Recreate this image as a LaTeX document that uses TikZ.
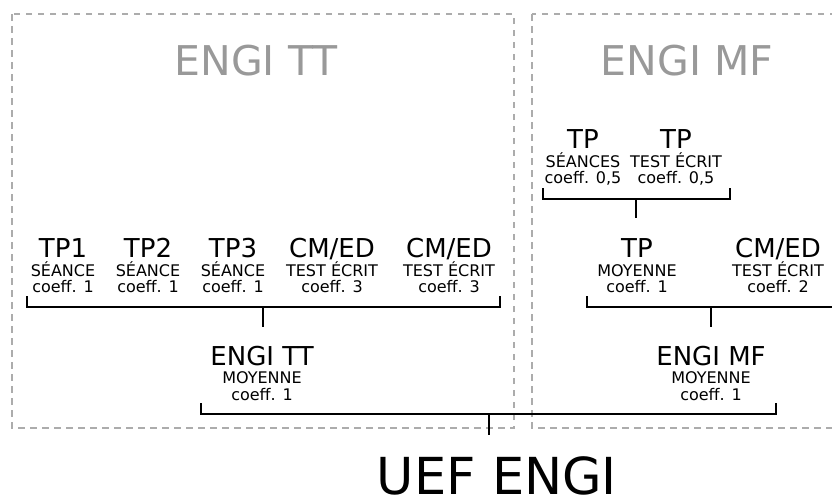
\documentclass[tikz,border=0pt]{standalone}
\usepackage{fontspec}
\setmainfont{DejaVu Sans}
\begin{document}
\begin{tikzpicture}[x=1pt,y=-1pt,
  big/.style={font=\fontsize{26}{26}\selectfont, anchor=base, inner sep=0pt},
  sub/.style={font=\fontsize{16}{16}\selectfont, anchor=base, inner sep=0pt},
  title/.style={font=\fontsize{41}{41}\selectfont, anchor=base, inner sep=0pt, text=gray!80},
  root/.style={font=\fontsize{51}{51}\selectfont, anchor=base, inner sep=0pt, text depth=0pt},
  frame/.style={draw=gray!65, line width=1.6pt, dash pattern=on 6.5pt off 5.5pt},
  bracket/.style={draw=black, line width=2.2pt},
  stem/.style={draw=black, line width=2.2pt}]
\clip (0,0) rectangle (832,498);
% frames
\draw[frame] (12,14) rectangle (514,428);
\draw[frame] (532,14) rectangle (846,428);
\node[title] (ttitle) at (256,75) {ENGI TT};
\node[title] (mtitle) at (687,75) {ENGI MF};
% left row
\node[big] (tp1) at (63,257) {TP1};
\node[sub] (tp1a) at (63,276) {SÉANCE};
\node[sub] (tp1b) at (63,292) {coeff. 1};
\node[big] (tp2) at (148,257) {TP2};
\node[sub] (tp2a) at (148,276) {SÉANCE};
\node[sub] (tp2b) at (148,292) {coeff. 1};
\node[big] (tp3) at (233,257) {TP3};
\node[sub] (tp3a) at (233,276) {SÉANCE};
\node[sub] (tp3b) at (233,292) {coeff. 1};
\node[big] (cm1) at (332,257) {CM/ED};
\node[sub] (cm1a) at (332,276) {TEST ÉCRIT};
\node[sub] (cm1b) at (332,292) {coeff. 3};
\node[big] (cm2) at (449,257) {CM/ED};
\node[sub] (cm2a) at (449,276) {TEST ÉCRIT};
\node[sub] (cm2b) at (449,292) {coeff. 3};
% right upper
\node[big] (tps) at (583,148) {TP};
\node[sub] (tpsa) at (583,167) {SÉANCES};
\node[sub] (tpsb) at (583,183) {coeff. 0,5};
\node[big] (tpt) at (676,148) {TP};
\node[sub] (tpta) at (676,167) {TEST ÉCRIT};
\node[sub] (tptb) at (676,183) {coeff. 0,5};
% right mid
\node[big] (tpm) at (637,257) {TP};
\node[sub] (tpma) at (637,276) {MOYENNE};
\node[sub] (tpmb) at (637,292) {coeff. 1};
\node[big] (cm3) at (778,257) {CM/ED};
\node[sub] (cm3a) at (778,276) {TEST ÉCRIT};
\node[sub] (cm3b) at (778,292) {coeff. 2};
% averages
\node[big] (tt) at (262,365) {ENGI TT};
\node[sub] (tta) at (262,383) {MOYENNE};
\node[sub] (ttb) at (262,400) {coeff. 1};
\node[big] (mf) at (711,365) {ENGI MF};
\node[sub] (mfa) at (711,383) {MOYENNE};
\node[sub] (mfb) at (711,400) {coeff. 1};
\node[root] (uef) at (497,494) {UEF ENGI};
% brackets
\coordinate (b1l) at (27,296); \coordinate (b1r) at (500,296);
\coordinate (b1c) at (263,307); \coordinate (b1s) at (263,327);
\draw[bracket] (b1l) |- (b1c) -| (b1r);
\draw[stem] (b1c) -- (b1s);
\coordinate (b2l) at (543,188); \coordinate (b2r) at (730,188);
\coordinate (b2c) at (636,199); \coordinate (b2s) at (636,218);
\draw[bracket] (b2l) |- (b2c) -| (b2r);
\draw[stem] (b2c) -- (b2s);
\coordinate (b3l) at (587,296); \coordinate (b3r) at (835,296);
\coordinate (b3c) at (711,307); \coordinate (b3s) at (711,327);
\draw[bracket] (b3l) |- (b3c) -| (b3r);
\draw[stem] (b3c) -- (b3s);
\coordinate (b4l) at (201,403); \coordinate (b4r) at (776,403);
\coordinate (b4c) at (489,414); \coordinate (b4s) at (489,435);
\draw[bracket] (b4l) |- (b4c) -| (b4r);
\draw[stem] (b4c) -- (b4s);
\end{tikzpicture}
\end{document}
